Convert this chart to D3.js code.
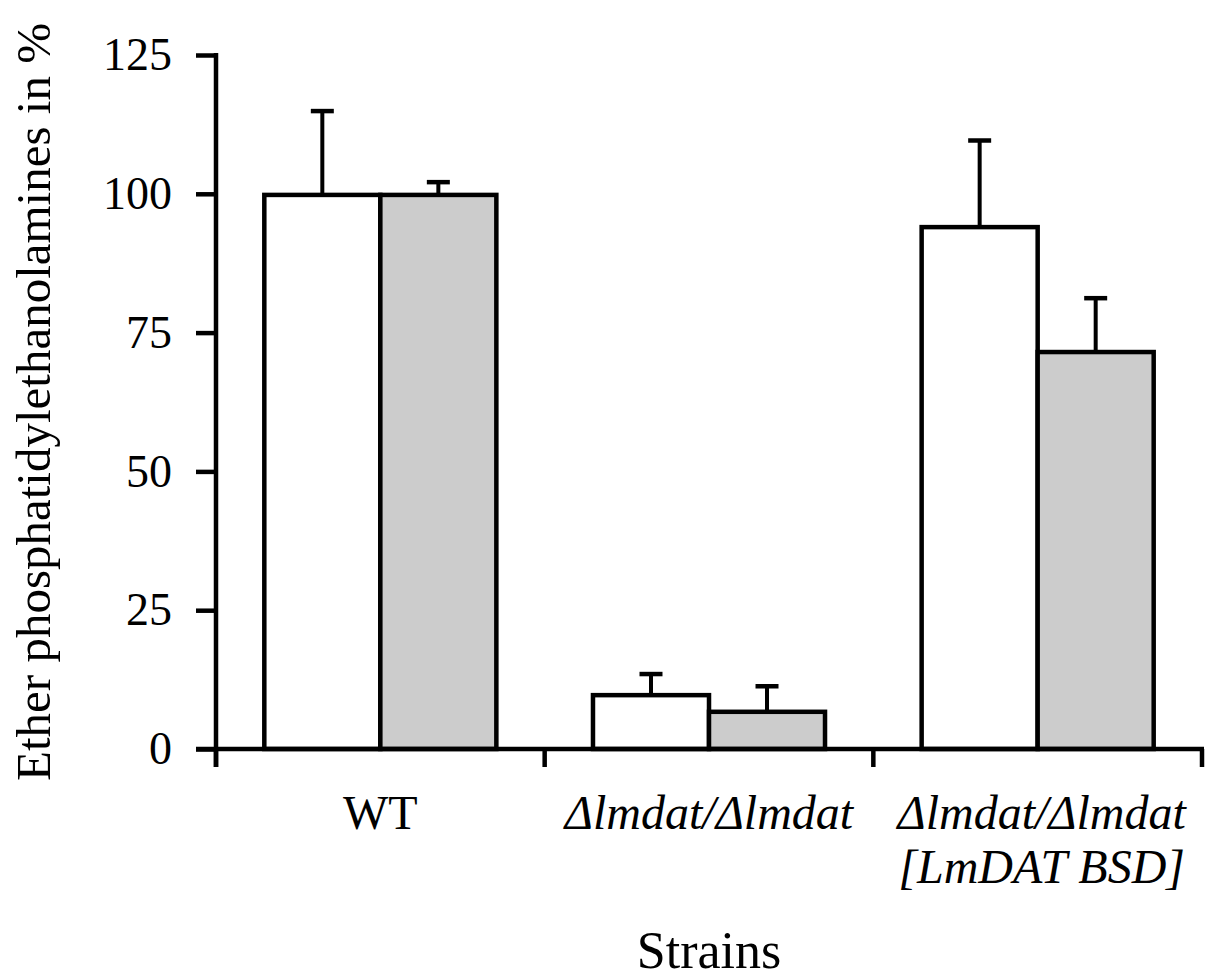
<!DOCTYPE html>
<html>
<head>
<meta charset="utf-8">
<script src="https://cdn.jsdelivr.net/npm/d3@7"></script>
<style>
  html, body { margin: 0; padding: 0; background: #fff; }
  text { font-family: "Liberation Serif", "Times New Roman", Times, "DejaVu Serif", serif; fill: #000; }
</style>
</head>
<body>
<svg id="chart" width="1214" height="978"></svg>
<script>
// ---- data ----
const categories = ["WT", "Δlmdat/Δlmdat", "Δlmdat/Δlmdat [LmDAT BSD]"];
const categoryLines = [["WT"], ["Δlmdat/Δlmdat"], ["Δlmdat/Δlmdat", "[LmDAT BSD]"]];
const categoryItalic = [false, true, true];
const seriesNames = ["A", "B"];
const seriesA = [99.8, 9.7, 94.0];
const seriesB = [99.8, 6.7, 71.5];
const errorsA = [15.1, 3.8, 15.6];
const errorsB = [2.3, 4.6, 9.7];
const yTicks = [0, 25, 50, 75, 100, 125];
const yTitle = "Ether phosphatidylethanolamines in %";
const xTitle = "Strains";

// ---- layout ----
const svg = d3.select("#chart");
const mLeft = 216, mRight = 1202, mTop = 55, mBottom = 749;
const colors = ["#ffffff", "#cccccc"];

const y = d3.scaleLinear().domain([0, 125]).range([mBottom, mTop]);
const x0 = d3.scaleBand().domain(categories).range([mLeft, mRight])
  .paddingInner(0.294).paddingOuter(0.147);
const x1 = d3.scaleBand().domain(seriesNames).range([0, x0.bandwidth()]);

const values = [seriesA, seriesB];
const errs = [errorsA, errorsB];

// error bars
const g = svg.append("g");
seriesNames.forEach((s, si) => {
  categories.forEach((c, ci) => {
    const v = values[si][ci];
    const bx = x0(c) + x1(s);
    const cx = bx + x1.bandwidth() / 2;
    g.append("line")
      .attr("x1", cx).attr("x2", cx)
      .attr("y1", y(v)).attr("y2", y(v + errs[si][ci]))
      .attr("stroke", "#000").attr("stroke-width", 4);
    g.append("line")
      .attr("x1", cx - 11.5).attr("x2", cx + 11.5)
      .attr("y1", y(v + errs[si][ci])).attr("y2", y(v + errs[si][ci]))
      .attr("stroke", "#000").attr("stroke-width", 4.5);
  });
});
// bars
seriesNames.forEach((s, si) => {
  categories.forEach((c, ci) => {
    const v = values[si][ci];
    const bx = x0(c) + x1(s);
    g.append("rect")
      .attr("x", bx).attr("y", y(v))
      .attr("width", x1.bandwidth()).attr("height", y(0) - y(v))
      .attr("fill", colors[si]).attr("stroke", "#000").attr("stroke-width", 4.5);
  });
});

// y axis
const yAxis = svg.append("g").attr("transform", `translate(${mLeft},0)`)
  .call(d3.axisLeft(y).tickValues(yTicks).tickSize(20).tickPadding(24).tickFormat(d3.format("d")));
yAxis.select(".domain").remove();
yAxis.selectAll(".tick line").attr("stroke", "#000").attr("stroke-width", 4.5);
yAxis.selectAll(".tick text").attr("font-size", 46).attr("fill", "#000");
svg.append("line").attr("x1", mLeft).attr("x2", mLeft).attr("y1", mTop - 2).attr("y2", mBottom + 18)
  .attr("stroke", "#000").attr("stroke-width", 4.5);

// x axis
svg.append("line").attr("x1", mLeft - 20).attr("x2", mRight + 2).attr("y1", mBottom).attr("y2", mBottom)
  .attr("stroke", "#000").attr("stroke-width", 4.5);
const step = x0.step();
const bounds = categories.map(c => x0(c) - x0.paddingInner() * step / 2);
bounds.push(mRight);
svg.append("g").selectAll("line").data(bounds).join("line")
  .attr("x1", d => d).attr("x2", d => d)
  .attr("y1", mBottom).attr("y2", mBottom + 18)
  .attr("stroke", "#000").attr("stroke-width", 4.5);

// category labels
categories.forEach((c, ci) => {
  const cx = x0(c) + x0.bandwidth() / 2 + (ci === 2 ? 4 : 0);
  const t = svg.append("text")
    .attr("x", cx)
    .attr("y", 829)
    .attr("text-anchor", "middle")
    .attr("font-size", 48)
    .attr("font-style", categoryItalic[ci] ? "italic" : "normal");
  categoryLines[ci].forEach((line, li) => {
    t.append("tspan").attr("x", cx)
      .attr("dy", li === 0 ? 0 : 54).text(line);
  });
});

// axis titles
svg.append("text")
  .attr("x", (mLeft + mRight) / 2).attr("y", 968)
  .attr("text-anchor", "middle").attr("font-size", 52).text(xTitle);
svg.append("text")
  .attr("transform", `translate(50,${(mTop + mBottom) / 2}) rotate(-90)`)
  .attr("text-anchor", "middle").attr("font-size", 49).text(yTitle);
</script>
</body>
</html>
